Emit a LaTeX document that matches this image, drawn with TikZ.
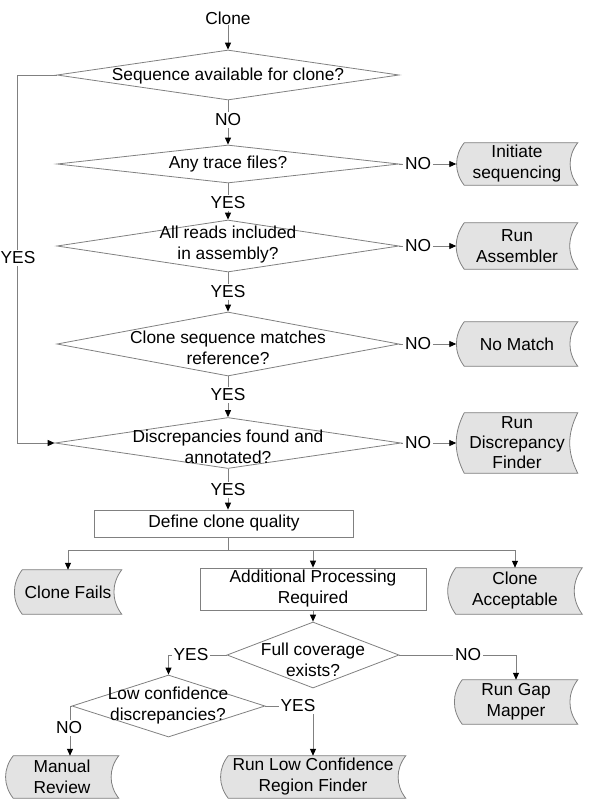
\documentclass[tikz,border=0pt]{standalone}
\usepackage{fontspec}
\setmainfont{Liberation Sans}
\usetikzlibrary{shapes.geometric,arrows.meta,calc,backgrounds}
\definecolor{lg}{HTML}{808080}
\definecolor{sf}{HTML}{E3E3E3}
\newcommand\storeshape[2]{\draw[draw=lg,fill=sf,line width=0.6pt] ($(#1.north west)+(8,0)$) -- (#1.north east) to[bend right=#2] (#1.south east) -- ($(#1.south west)+(8,0)$) to[bend left=#2] ($(#1.north west)+(8,0)$);}
\begin{document}
\begin{tikzpicture}[x=0.75pt,y=-0.75pt,
  font=\fontsize{13}{15.75}\selectfont,
  dia/.style={diamond, draw=lg, line width=0.6pt, inner sep=0pt},
  txt/.style={align=center, inner sep=0pt},
  lbl/.style={fill=white, inner sep=1.5pt},
  box/.style={draw=lg, line width=0.6pt, rectangle, inner sep=0pt, align=center},
  store/.style={rectangle, inner sep=0pt, align=center},
  arr/.style={draw=lg, line width=0.6pt, -{Triangle[length=5.2pt,width=4.5pt,color=black]}},
  ln/.style={draw=lg, line width=0.6pt}]
\useasboundingbox (0,0) rectangle (600,804);

\node[txt] (clone) at (228,18) {Clone};

\node[dia, minimum width=256.5pt, minimum height=37.5pt] (d1) at (228,75) {};
\node[txt] (t1) at (228,76) {Sequence available for clone?};
\node[lbl] (no1) at (228,120) {NO};

\node[dia, minimum width=256.5pt, minimum height=28.5pt] (d2) at (228,164) {};
\node[txt] (t2) at (228,164) {Any trace files?};
\node[lbl] (yes2) at (228,203) {YES};

\node[dia, minimum width=256.5pt, minimum height=39pt] (d3) at (228,246) {};
\node[txt] (t3) at (228,245) {All reads included\\in assembly?};
\node[lbl] (yes3) at (228,292) {YES};

\node[dia, minimum width=256.5pt, minimum height=48pt] (d4) at (228,344) {};
\node[txt] (t4) at (228,348) {Clone sequence matches\\reference?};
\node[lbl] (yes4) at (228,395) {YES};

\node[dia, minimum width=259.5pt, minimum height=38.25pt] (d5) at (228,443) {};
\node[txt] (t5) at (228,447) {Discrepancies found and\\annotated?};
\node[lbl] (yes5) at (228,490) {YES};

\node[box, minimum width=194.25pt, minimum height=20.25pt] (define) at (224,523.5) {Define clone quality};

% right side store boxes
\node[store, minimum width=90.75pt, minimum height=31.5pt] (init) at (517,164) {Initiate\\sequencing};
\node[lbl] (no2) at (418,164) {NO};
\node[store, minimum width=90.75pt, minimum height=34.5pt] (asm) at (517,246) {Run\\Assembler};
\node[lbl] (no3) at (418,246) {NO};
\node[store, minimum width=90.75pt, minimum height=33pt] (nomatch) at (517,344) {No Match};
\node[lbl] (no4) at (418,344) {NO};
\node[store, minimum width=90.75pt, minimum height=45pt, font=\fontsize{13}{15}\selectfont] (rdf) at (517,443) {Run\\Discrepancy\\Finder};
\node[lbl] (no5) at (418,443) {NO};

\node[lbl] (yesl) at (18,258) {YES};

% quality branches
\node[store, minimum width=80.25pt, minimum height=33pt] (cfails) at (68,592) {Clone Fails};
\node[box, minimum width=169.5pt, minimum height=31.5pt] (addp) at (313,589) {Additional Processing\\Required};
\node[store, minimum width=100.5pt, minimum height=34.5pt] (cacc) at (515,591) {Clone\\Acceptable};
\coordinate (br) at (228,550);

\node[dia, minimum width=129pt, minimum height=49.5pt] (d6) at (313,655) {};
\node[txt] (t6) at (313,660) {Full coverage\\exists?};
\node[lbl] (yes6) at (191,655) {YES};
\node[lbl] (no6) at (468,655) {NO};
\node[store, minimum width=92.25pt, minimum height=33pt] (gap) at (516,702) {Run Gap\\Mapper};

\node[dia, minimum width=144.75pt, minimum height=46.5pt] (d7) at (168.5,706) {};
\node[txt] (t7) at (168,706) {Low confidence\\discrepancies?};
\node[lbl] (no7) at (69,728) {NO};
\node[lbl] (yes7) at (298,706) {YES};
\node[store, minimum width=84.75pt, minimum height=31.5pt] (manual) at (62,777) {Manual\\Review};
\node[store, minimum width=138.75pt, minimum height=31.5pt] (rlcrf) at (313,777) {Run Low Confidence\\Region Finder};

\begin{scope}[on background layer]
\storeshape{init}{38}
\storeshape{asm}{36}
\storeshape{nomatch}{37}
\storeshape{rdf}{27}
\storeshape{cfails}{37}
\storeshape{cacc}{36}
\storeshape{gap}{37}
\storeshape{manual}{38}
\storeshape{rlcrf}{38}

\draw[arr] (clone) -- (d1.north);
\draw[arr] (d1.south) -- (d2.north);
\draw[arr] (d2.south) -- (d3.north);
\draw[arr] (d3.south) -- (d4.north);
\draw[arr] (d4.south) -- (d5.north);
\draw[arr] (d5.south) -- (d5.south |- define.north);

\draw[arr] (d2.east) -- (init.west);
\draw[arr] (d3.east) -- (asm.west);
\draw[arr] (d4.east) -- (nomatch.west);
\draw[arr] (d5.east) -- (rdf.west);

\draw[arr] (d1.west) -- ++(-39,0) |- (d5.west);

\draw[ln] (d5.south |- define.south) -- (br);
\draw[ln] (cfails.north |- br) -- (cacc.north |- br);
\draw[arr] (cfails.north |- br) -- (cfails.north);
\draw[arr] (addp.north |- br) -- (addp.north);
\draw[arr] (cacc.north |- br) -- (cacc.north);

\draw[arr] (addp.south) -- (d6.north);
\draw[arr] (d6.west) -| (d7.north);
\draw[arr] (d6.east) -| (gap.north);
\draw[arr] (d7.west) -| ($(manual.north)+(8,0)$);
\draw[arr] (d7.east) -| (rlcrf.north);
\end{scope}
\end{tikzpicture}
\end{document}
